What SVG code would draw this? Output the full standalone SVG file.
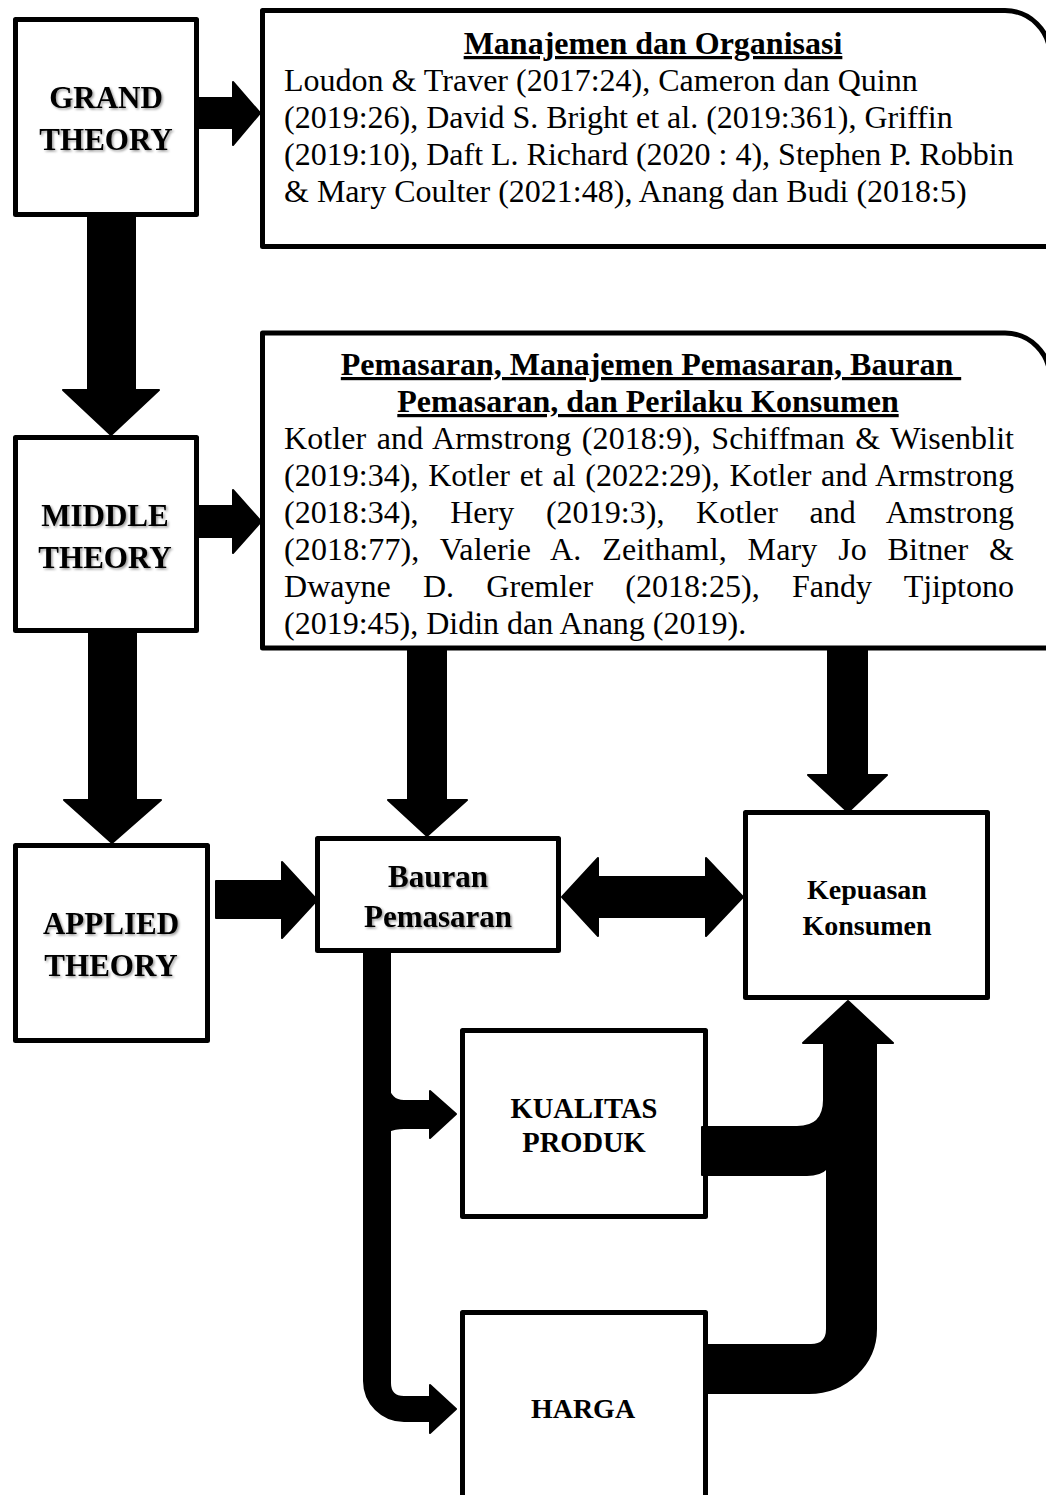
<svg xmlns="http://www.w3.org/2000/svg" width="1046" height="1495" viewBox="0 0 1046 1495">
<defs>
<style>
.box{fill:#fff;stroke:#000;stroke-width:5;stroke-linejoin:round}
.arr{fill:#000;stroke:#000;stroke-width:2;stroke-linejoin:round}
.h{font-family:"Liberation Serif","Times New Roman",serif;font-weight:bold;text-anchor:middle;fill:#000}
.sh{filter:url(#shadow)}
.b{font-family:"Liberation Serif","Times New Roman",serif;font-size:32px;fill:#000}
.t{font-family:"Liberation Serif","Times New Roman",serif;font-size:32px;font-weight:bold;text-anchor:middle;text-decoration:underline;fill:#000}
</style>
<filter id="shadow" x="-10%" y="-20%" width="130%" height="150%">
<feDropShadow dx="1.5" dy="1.5" stdDeviation="1" flood-color="#000" flood-opacity="0.4"/>
</filter>
</defs>
<rect width="1046" height="1495" fill="#fff"/>

<g id="grand-theory">
<rect class="box" x="15.5" y="19.5" width="181" height="195"/>
<text class="h sh" font-size="31" x="106" y="108">GRAND</text>
<text class="h sh" font-size="31" x="106" y="150">THEORY</text>
</g>

<g id="manajemen-organisasi">
<path class="box" d="M262.5,10.5 H1005 A45,45 0 0 1 1050,55.5 V246.5 H262.5 Z"/>
<text class="t" x="653" y="54">Manajemen dan Organisasi</text>
<text class="b" x="284" y="91">Loudon &amp; Traver (2017:24), Cameron dan Quinn</text>
<text class="b" x="284" y="128">(2019:26), David S. Bright et al. (2019:361), Griffin</text>
<text class="b" x="284" y="165">(2019:10), Daft L. Richard (2020 : 4), Stephen P. Robbin</text>
<text class="b" x="284" y="202">&amp; Mary Coulter (2021:48), Anang dan Budi (2018:5)</text>
</g>

<g id="middle-theory">
<rect class="box" x="15.5" y="437.5" width="181" height="193"/>
<text class="h sh" font-size="31" x="105" y="526">MIDDLE</text>
<text class="h sh" font-size="31" x="105" y="568">THEORY</text>
</g>

<g id="pemasaran">
<path class="box" d="M262.5,333 H1005 A45,45 0 0 1 1050,378 V648 H262.5 Z"/>
<text class="t" x="651" y="375">Pemasaran, Manajemen Pemasaran, Bauran&#160;</text>
<text class="t" x="648" y="412">Pemasaran, dan Perilaku Konsumen</text>
<text class="b" x="284" y="449" word-spacing="2.4" textLength="730" lengthAdjust="spacing">Kotler and Armstrong (2018:9), Schiffman &amp; Wisenblit</text>
<text class="b" x="284" y="486" word-spacing="1.6" textLength="730" lengthAdjust="spacing">(2019:34), Kotler et al (2022:29), Kotler and Armstrong</text>
<text class="b" x="284" y="523" word-spacing="23.5" textLength="730" lengthAdjust="spacing">(2018:34), Hery (2019:3), Kotler and Amstrong</text>
<text class="b" x="284" y="560" word-spacing="12.6" textLength="730" lengthAdjust="spacing">(2018:77), Valerie A. Zeithaml, Mary Jo Bitner &amp;</text>
<text class="b" x="284" y="597" word-spacing="24.2" textLength="730" lengthAdjust="spacing">Dwayne D. Gremler (2018:25), Fandy Tjiptono</text>
<text class="b" x="284" y="634">(2019:45), Didin dan Anang (2019).</text>
</g>

<g id="applied-theory">
<rect class="box" x="15.5" y="845.5" width="192" height="195"/>
<text class="h sh" font-size="31" x="111" y="934">APPLIED</text>
<text class="h sh" font-size="31" x="111" y="976">THEORY</text>
</g>

<g id="bauran-pemasaran">
<rect class="box" x="317.5" y="838.5" width="241" height="112"/>
<text class="h sh" font-size="31" x="438" y="887">Bauran</text>
<text class="h sh" font-size="31" x="438" y="927">Pemasaran</text>
</g>

<g id="kepuasan-konsumen">
<rect class="box" x="745.5" y="812.5" width="242" height="185"/>
<text class="h" font-size="28" x="867" y="899">Kepuasan</text>
<text class="h" font-size="28" x="867" y="935">Konsumen</text>
</g>

<g id="kualitas-produk">
<rect class="box" x="462.5" y="1030.5" width="243" height="186"/>
<text class="h" font-size="28.5" x="584" y="1118">KUALITAS</text>
<text class="h" font-size="28.5" x="584" y="1152">PRODUK</text>
</g>

<g id="harga">
<rect class="box" x="462.5" y="1312.5" width="243" height="200"/>
<text class="h" font-size="28" x="583" y="1418">HARGA</text>
</g>

<g id="connectors">
<path class="arr" d="M199,98 H233 V82 L260,113 L233,145 V128 H199 Z"/>
<path class="arr" d="M199,506 H233 V490 L261,521.5 L233,553 V537 H199 Z"/>
<path class="arr" d="M88,217 H135 V390 H159 L111,435 L63,390 H88 Z"/>
<path class="arr" d="M89,633 H136 V800 H161 L112,843 L64,800 H89 Z"/>
<path class="arr" d="M216,881 H282 V862 L317,900 L282,938 V918 H216 Z"/>
<path class="arr" d="M408,650 H446 V800 H467 L427,836 L388,800 H408 Z"/>
<path class="arr" d="M828,650 H867 V775 H887 L848,812 L808,775 H828 Z"/>
<path class="arr" d="M562,897 L598,858 V877 H706 V858 L743,897 L706,936 V917 H598 V936 Z"/>
<path class="arr" d="M364,950 H390 V1383 Q390,1397 404,1397 H430 V1385 L456,1409 L430,1433 V1421 H404 A40,40 0 0 1 364,1381 Z"/>
<path class="arr" d="M388,1086 Q390,1101 404,1101 H430 V1091 L456,1114 L430,1138 V1128 H404 Q395,1128 388,1131 Z"/>
<path class="arr" d="M848,1001 L893,1043 H876 V1329 A67,64 0 0 1 809,1393 H704 V1345 H811 Q827,1345 827,1329 V1168 Q820,1175 807,1175 H702 V1127 H797 Q824,1127 824,1100 V1043 H803 Z"/>
</g>
</svg>
